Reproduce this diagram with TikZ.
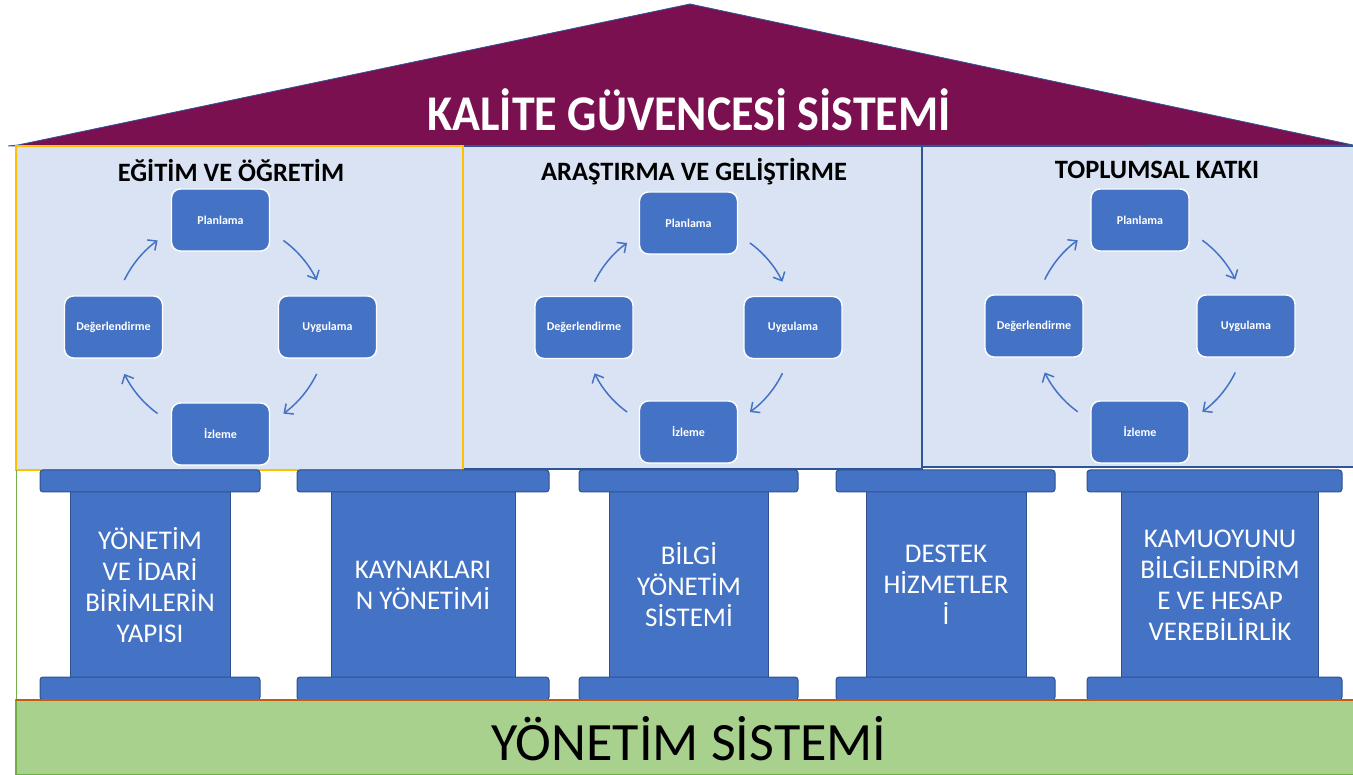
\documentclass[tikz,border=0pt]{standalone}
\usepackage{fontspec}
\setmainfont{Carlito}
\usetikzlibrary{arrows.meta,calc}
\definecolor{roofc}{RGB}{123,16,80}
\definecolor{roofedge}{RGB}{47,85,151}
\definecolor{panelfill}{RGB}{218,227,243}
\definecolor{boxblue}{RGB}{68,114,196}
\definecolor{boxedge}{RGB}{47,82,143}
\definecolor{gold}{RGB}{255,192,0}
\definecolor{basegreen}{RGB}{169,209,142}
\definecolor{greenedge}{RGB}{112,173,71}
\definecolor{rust}{RGB}{197,90,17}
\tikzset{
  panelbox/.style={fill=panelfill, line width=1.6pt},
  paneltitle/.style={font=\fontsize{26.5}{30}\selectfont\bfseries, text=black},
  cyclebox/.style={rectangle, rounded corners=9pt, fill=boxblue, draw=white, line width=1.4pt,
     minimum width=98pt, minimum height=62pt, text=white, font=\fontsize{12}{14}\selectfont\bfseries},
  cyclearrow/.style={draw=boxblue, line width=1.5pt, -{Straight Barb[length=7pt,width=13pt,line width=1.5pt]}},
  pillarpart/.style={fill=boxblue, draw=boxedge, line width=1pt},
  pillartext/.style={text=white, align=center, font=\fontsize{27}{31}\selectfont}
}
\begin{document}
\begin{tikzpicture}[x=1pt,y=-1pt]
\useasboundingbox (0,0) rectangle (1353,775);
% roof
\draw[fill=roofc, draw=roofedge, line width=0.8pt] (8,146) -- (18,145) -- (690,4) -- (1353,145) -- cycle;
\node[text=white, font=\fontsize{50}{54}\selectfont\bfseries] (roofTitle) at (689,110) {\scalebox{0.92}[1]{KALİTE GÜVENCESİ SİSTEMİ}};
% panels
\draw[panelbox, draw=roofedge] (463,146) rectangle (922,469);
\draw[panelbox, draw=roofedge] (922,146) rectangle (1356,467);
\draw[panelbox, draw=gold] (16,146) rectangle (463,470);
\node[paneltitle] (tA) at (231,171) {EĞİTİM VE ÖĞRETİM};
\node[paneltitle] (tB) at (694,172) {ARAŞTIRMA VE GELİŞTİRME};
\node[paneltitle] (tC) at (1157,170) {TOPLUMSAL KATKI};
% cycles
\foreach \k/\cx/\cy/\r in {A/220.5/327/107, B/688.5/327.5/104.5, C/1140/326/106}{
  \coordinate (c\k) at (\cx,\cy);
  \node[cyclebox] (plan\k) at (\cx,{\cy-\r}) {Planlama};
  \node[cyclebox] (uyg\k) at ({\cx+\r},\cy) {Uygulama};
  \node[cyclebox] (izl\k) at (\cx,{\cy+\r}) {İzleme};
  \node[cyclebox] (deg\k) at ({\cx-\r},\cy) {Değerlendirme};
  \draw[cyclearrow] ($(c\k)+(54:\r pt)$) arc[start angle=54, end angle=26, radius=\r pt];
  \draw[cyclearrow] ($(c\k)+(-26:\r pt)$) arc[start angle=-26, end angle=-54, radius=\r pt];
  \draw[cyclearrow] ($(c\k)+(-126:\r pt)$) arc[start angle=-126, end angle=-154, radius=\r pt];
  \draw[cyclearrow] ($(c\k)+(154:\r pt)$) arc[start angle=154, end angle=126, radius=\r pt];
}
% left green edge
\draw[greenedge, line width=1pt] (16,470) -- (16,775);
% pillars
\foreach \k/\ca/\cb/\sa/\sb in {1/40/260/70/230, 2/297/549/331/515, 3/579/798/609/768, 4/836/1055/866/1026, 5/1087/1342/1121/1318}{
  \draw[pillarpart] (\sa,490) rectangle (\sb,679);
  \draw[pillarpart, rounded corners=3pt] (\ca,470) rectangle (\cb,492);
  \draw[pillarpart, rounded corners=3pt] (\ca,677) rectangle (\cb,700);
}
\node[pillartext] (p1) at (150,585) {YÖNETİM\\VE İDARİ\\BİRİMLERİN\\YAPISI};
\node[pillartext] (p2) at (423,585) {KAYNAKLARI\\N YÖNETİMİ};
\node[pillartext] (p3) at (689,585) {BİLGİ\\YÖNETİM\\SİSTEMİ};
\node[pillartext] (p4) at (946,585) {DESTEK\\HİZMETLER\\İ};
\node[pillartext] (p5) at (1220,585) {KAMUOYUNU\\BİLGİLENDİRM\\E VE HESAP\\VEREBİLİRLİK};
% base
\draw[fill=basegreen, draw=greenedge, line width=1.2pt] (16,700) rectangle (1356,775);
\draw[rust, line width=1.2pt] (16,700) -- (1353,700);
\node[font=\fontsize{54}{58}\selectfont, text=black] (base) at (689,739) {YÖNETİM SİSTEMİ};
\end{tikzpicture}
\end{document}
